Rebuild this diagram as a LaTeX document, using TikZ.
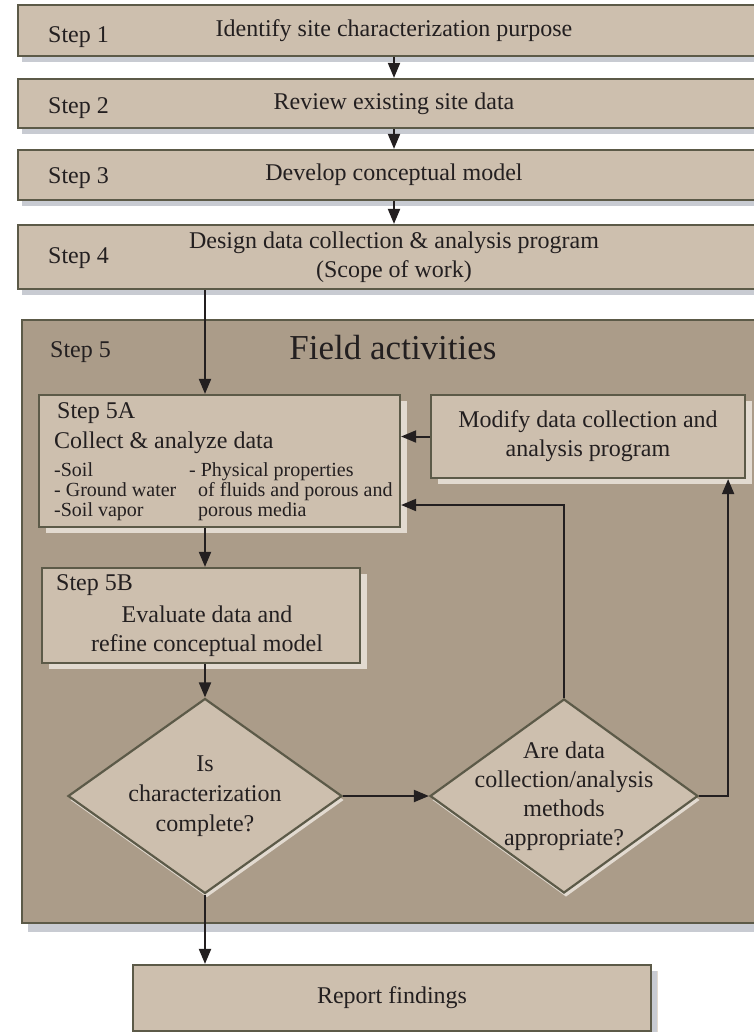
\documentclass[tikz,border=0pt]{standalone}
\usepackage{fontspec}
\setmainfont{Liberation Serif}
\usetikzlibrary{arrows.meta,shapes.geometric,shadows,positioning}
\definecolor{boxtan}{RGB}{205,191,174}
\definecolor{fieldtan}{RGB}{171,156,137}
\definecolor{edgeolive}{RGB}{92,90,72}
\definecolor{greyshadow}{RGB}{200,203,210}
\definecolor{paleshadow}{RGB}{226,218,208}
\definecolor{inkdark}{RGB}{35,31,32}
\begin{document}
\begin{tikzpicture}[x=1pt,y=-1pt,
    font=\fontsize{24}{29}\selectfont, text=inkdark,
    stepbox/.style={draw=edgeolive, line width=2.2pt, fill=boxtan, inner sep=0pt,
        minimum width=752pt, align=center,
        drop shadow={shadow xshift=4pt, shadow yshift=-6pt, fill=greyshadow, opacity=1}},
    fieldbox/.style={draw=edgeolive, line width=2.2pt, fill=fieldtan, inner sep=0pt,
        drop shadow={shadow xshift=6pt, shadow yshift=-9pt, fill=greyshadow, opacity=1}},
    innerbox/.style={draw=edgeolive, line width=2.2pt, fill=boxtan, inner sep=0pt, align=center,
        drop shadow={shadow xshift=7pt, shadow yshift=-6pt, fill=paleshadow, opacity=1}},
    decision/.style={diamond, draw=edgeolive, line width=2.2pt, fill=boxtan, inner sep=0pt,
        drop shadow={shadow xshift=2pt, shadow yshift=-4pt, fill=paleshadow, opacity=1}},
    steplabel/.style={anchor=west, inner sep=0pt},
    smalllist/.style={anchor=west, inner sep=0pt, align=left, font=\fontsize{20}{20}\selectfont},
    arr/.style={draw=inkdark, line width=2pt, -{Triangle[width=12pt,length=15pt]}}]

    \useasboundingbox (0,0) rectangle (753,1032);

    % steps 1 to 4
    \node[stepbox, minimum height=51pt] (s1) at (394,30.5) {Identify site characterization purpose};
    \node[stepbox, minimum height=49pt] (s2) at (394,103.5) {Review existing site data};
    \node[stepbox, minimum height=50pt] (s3) at (394,175) {Develop conceptual model};
    \node[stepbox, minimum height=64pt] (s4) at (394,257) {Design data collection \& analysis program\\(Scope of work)};
    \node[steplabel] (l1) at (48,37) {Step 1};
    \node[steplabel] (l2) at (48,108) {Step 2};
    \node[steplabel] (l3) at (48,178) {Step 3};
    \node[steplabel] (l4) at (48,258) {Step 4};

    % field activities
    \node[fieldbox, minimum width=738pt, minimum height=603pt] (f5) at (391,621.5) {};
    \node[steplabel] (l5) at (50,352) {Step 5};
    \node (ftitle) at (393,348) {\fontsize{35}{40}\selectfont Field activities};

    \node[innerbox, minimum width=361pt, minimum height=132pt] (s5a) at (219.5,461) {};
    \node[steplabel] (l5a) at (57,413) {Step 5A};
    \node[steplabel] (t5a) at (54,443) {Collect \& analyze data};
    \node[smalllist] (soil) at (54,492) {-Soil\\- Ground water\\-Soil vapor};
    \node[smalllist] (phys) at (189,492) {- Physical properties\\\hspace*{9pt}of fluids and porous and\\\hspace*{9pt}porous media};

    \node[innerbox, minimum width=314pt, minimum height=83pt] (mod) at (588,436.5) {Modify data collection and\\analysis program};

    \node[innerbox, minimum width=318pt, minimum height=95pt] (s5b) at (201,615.5) {};
    \node[steplabel] (l5b) at (56,585) {Step 5B};
    \node[align=center] (t5b) at (207,631) {Evaluate data and\\refine conceptual model};

    \node[decision, minimum width=274pt, minimum height=195pt] (dl) at (205,796) {};
    \node[align=center, font=\fontsize{24}{30}\selectfont] (tdl) at (dl) {Is\\characterization\\complete?};
    \node[decision, minimum width=268pt, minimum height=194pt] (dr) at (564,796) {};
    \node[align=center] (tdr) at (dr) {Are data\\collection/analysis\\methods\\appropriate?};

    % report
    \node[innerbox, minimum width=518pt, minimum height=66pt,
        drop shadow={shadow xshift=6pt, shadow yshift=-6pt, fill=greyshadow, opacity=1}] (rep) at (392,998) {Report findings};

    % connectors
    \draw[arr] (s1.south) -- (s2.north);
    \draw[arr] (s2.south) -- (s3.north);
    \draw[arr] (s3.south) -- (s4.north);
    \draw[arr] (dl.north |- s4.south) -- (dl.north |- s5a.north);
    \draw[arr] (dl.north |- s5a.south) -- (dl.north |- s5b.north);
    \draw[arr] (dl.north |- s5b.south) -- (dl.north);
    \draw[arr] (mod.west) -- (mod.west -| s5a.east);
    \draw[arr] (dl.east) -- (dr.west);
    \draw[arr] (dr.north) |- ([yshift=-44pt]s5a.east);
    \draw[arr] (dr.east) -| ([xshift=-18pt]mod.south east);
    \draw[arr] (dl.south) -- (dl.south |- rep.north);
\end{tikzpicture}
\end{document}
